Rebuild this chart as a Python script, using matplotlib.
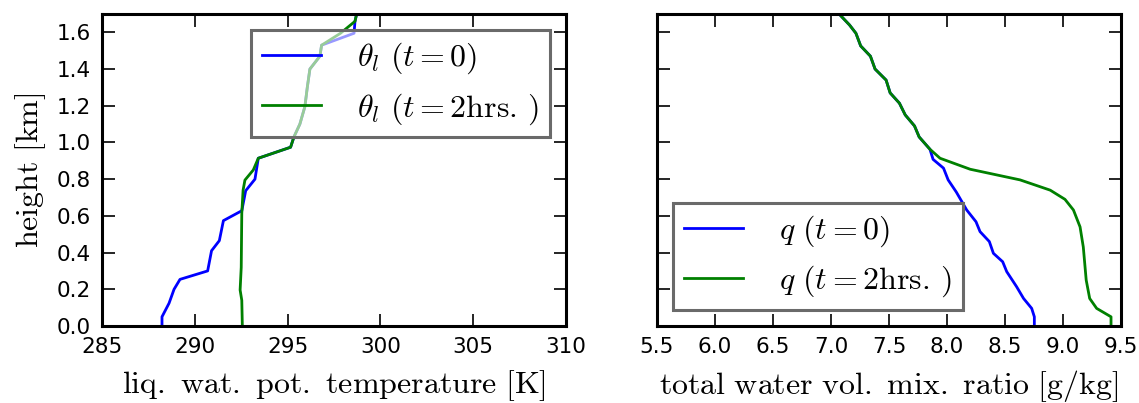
import matplotlib
matplotlib.use("Agg")
import matplotlib.pyplot as plt

plt.rcParams['mathtext.fontset'] = 'cm'
plt.rcParams['font.family'] = 'DejaVu Sans'

# Height levels [km] and profiles
h_theta0 = [0.0, 0.05, 0.124, 0.20, 0.254, 0.30, 0.41, 0.465, 0.574, 0.628,
            0.737, 0.80, 0.914, 0.974, 1.03, 1.10, 1.195, 1.30, 1.40, 1.47,
            1.53, 1.595, 1.66, 1.70]
theta0 = [288.23, 288.23, 288.61, 288.88, 289.20, 290.69, 290.90, 291.32,
          291.54, 292.53, 292.74, 293.24, 293.42, 295.16, 295.34, 295.66,
          295.93, 296.06, 296.20, 296.74, 296.83, 298.58, 298.63, 298.72]

h_theta2 = [0.0, 0.14, 0.196, 0.32, 0.614, 0.74, 0.795, 0.85, 0.914, 0.974,
            1.03, 1.10, 1.195, 1.30, 1.40, 1.47, 1.53, 1.595, 1.66, 1.70]
theta2 = [292.56, 292.53, 292.44, 292.50, 292.53, 292.60, 292.70, 293.15,
          293.42, 295.16, 295.34, 295.66, 295.93, 296.06, 296.20, 296.74,
          296.83, 297.85, 298.63, 298.72]

h_q0 = [0.0, 0.05, 0.096, 0.15, 0.214, 0.296, 0.35, 0.396, 0.46, 0.514,
        0.568, 0.632, 0.73, 0.796, 0.86, 0.908, 0.963, 1.03, 1.09, 1.15,
        1.214, 1.27, 1.34, 1.40, 1.47, 1.526, 1.595, 1.64, 1.70]
q0 = [8.753, 8.753, 8.73, 8.66, 8.60, 8.515, 8.48, 8.40, 8.365, 8.285,
      8.25, 8.17, 8.08, 8.01, 7.97, 7.88, 7.853, 7.76, 7.72, 7.64,
      7.59, 7.51, 7.475, 7.38, 7.34, 7.256, 7.215, 7.16, 7.07]

h_q2 = [0.0, 0.05, 0.096, 0.15, 0.25, 0.43, 0.54, 0.632, 0.69, 0.74,
        0.796, 0.854, 0.914, 0.963, 1.03, 1.09, 1.15, 1.214, 1.27, 1.34,
        1.40, 1.47, 1.526, 1.595, 1.64, 1.70]
q2 = [9.414, 9.414, 9.29, 9.23, 9.20, 9.175, 9.147, 9.09, 9.017, 8.89,
      8.63, 8.20, 7.94, 7.853, 7.76, 7.72, 7.64, 7.59, 7.51, 7.475,
      7.38, 7.34, 7.256, 7.215, 7.16, 7.07]

theta_ticks = [285, 290, 295, 300, 305, 310]
q_ticks = [5.5, 6.0, 6.5, 7.0, 7.5, 8.0, 8.5, 9.0, 9.5]
h_ticks = [0.0, 0.2, 0.4, 0.6, 0.8, 1.0, 1.2, 1.4, 1.6]

BLUE = '#0000ff'
GREEN = '#008000'
LW = 2.0

fig = plt.figure(figsize=(11.39, 4.03), dpi=100)
ax1 = fig.add_axes([0.0896, 0.1911, 0.4073, 0.7742])
ax2 = fig.add_axes([0.5768, 0.1911, 0.4074, 0.7742])

for ax in (ax1, ax2):
    ax.tick_params(direction='in', top=True, right=True, length=9, width=1.2,
                   labelsize=15.5, pad=8)
    for s in ax.spines.values():
        s.set_linewidth(2.2)
    ax.set_ylim(0, 1.7)
    ax.set_yticks(h_ticks)

ax1.plot(theta0, h_theta0, color=BLUE, lw=LW, label=r'$\theta_l\ (t=0)$')
ax1.plot(theta2, h_theta2, color=GREEN, lw=LW, label=r'$\theta_l\ (t=2\mathrm{hrs.}\,)$')
ax1.set_xlim(285, 310)
ax1.set_xticks(theta_ticks)
ax1.set_yticklabels([f'{v:.1f}' for v in h_ticks])
ax1.set_xlabel(r'$\mathrm{liq.\ wat.\ pot.\ temperature\ [K]}$', fontsize=23, labelpad=8)
ax1.set_ylabel(r'$\mathrm{height\ [km]}$', fontsize=23, labelpad=6)

ax2.plot(q0, h_q0, color=BLUE, lw=LW, label=r'$q\ (t=0)$')
ax2.plot(q2, h_q2, color=GREEN, lw=LW, label=r'$q\ (t=2\mathrm{hrs.}\,)$')
ax2.set_xlim(5.5, 9.5)
ax2.set_xticks(q_ticks)
ax2.set_xticklabels([f'{v:.1f}' for v in q_ticks])
ax2.set_yticklabels([])
ax2.set_xlabel(r'$\mathrm{total\ water\ vol.\ mix.\ ratio\ [g/kg]}$', fontsize=23, labelpad=8)

leg_kw = dict(fontsize=23, fancybox=False, handlelength=1.85,
              handletextpad=1.13, labelspacing=0.46, borderpad=0.34, borderaxespad=0.5)
l1 = ax1.legend(loc='upper right', **leg_kw)
l2 = ax2.legend(loc='lower left', **leg_kw)
for lg in (l1, l2):
    fr = lg.get_frame()
    fr.set_alpha(None)
    fr.set_facecolor((1, 1, 1, 0.6))
    fr.set_edgecolor('#6a6a6a')
    fr.set_linewidth(2.2)

fig.savefig('out.png', dpi=100)
